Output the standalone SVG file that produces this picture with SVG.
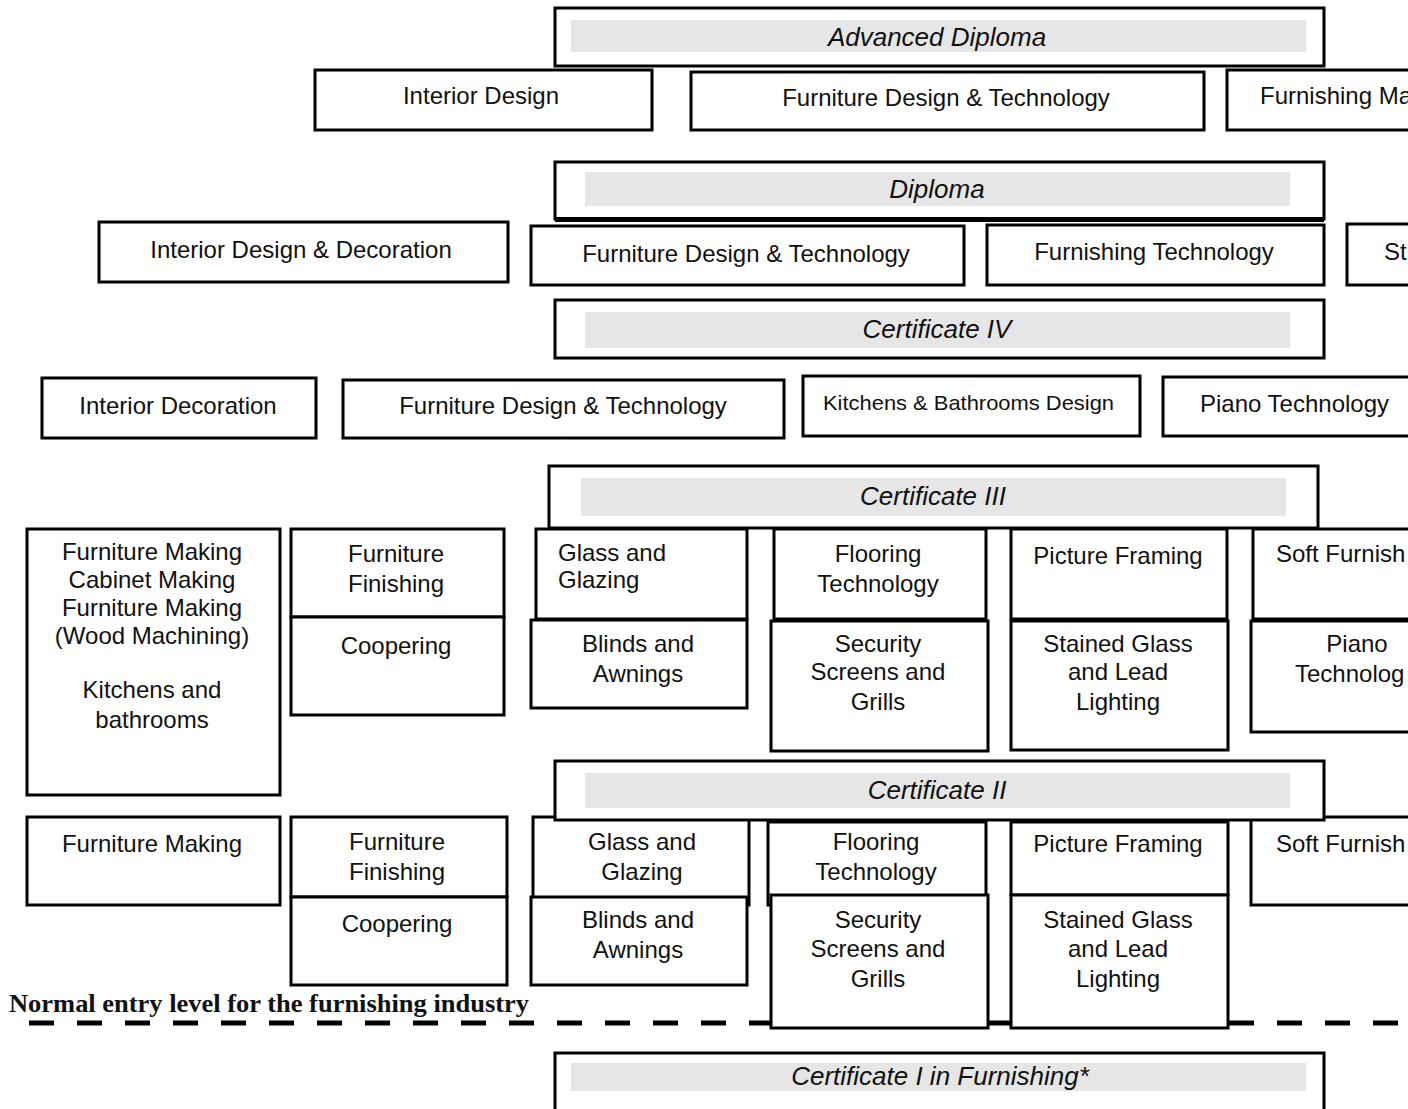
<svg xmlns="http://www.w3.org/2000/svg" width="1408" height="1109" viewBox="0 0 1408 1109">
<style>
.box{fill:#fff;stroke:#000;stroke-width:3}
.band{fill:#e6e6e6}
text{font-family:"Liberation Sans",Arial,sans-serif;font-size:24px;fill:#111}
.m{text-anchor:middle}
.h{font-style:italic;font-size:26px;text-anchor:middle}
.note{font-family:"Liberation Serif","Times New Roman",serif;font-weight:bold;font-size:25px}
</style>
<rect width="1408" height="1109" fill="#fff"/>
<g id="entry-level">
<path d="M29,1023 H1408" stroke="#000" stroke-width="5" stroke-dasharray="25 23" fill="none"/>
<text class="note" x="9" y="1012" textLength="520" lengthAdjust="spacingAndGlyphs">Normal entry level for the furnishing industry</text>
</g>
<g id="connectors"></g>
<!-- Row 1: Advanced Diploma courses -->
<g id="ad-interior-design"><rect class="box" x="315" y="70" width="337" height="60"/><text class="m" x="481" y="104">Interior Design</text></g>
<g id="ad-furniture-design"><rect class="box" x="691" y="72" width="513" height="58"/><text class="m" x="946" y="106">Furniture Design &amp; Technology</text></g>
<g id="ad-furnishing"><rect class="box" x="1227" y="70" width="200" height="60"/><text x="1260" y="104">Furnishing Ma</text></g>
<!-- Row 2: Diploma courses -->
<g id="dip-interior"><rect class="box" x="99" y="222" width="409" height="60"/><text class="m" x="301" y="258">Interior Design &amp; Decoration</text></g>
<g id="dip-furniture"><rect class="box" x="531" y="226" width="433" height="59"/><text class="m" x="746" y="262">Furniture Design &amp; Technology</text></g>
<g id="dip-furnishing"><rect class="box" x="987" y="225" width="337" height="60"/><text class="m" x="1154" y="260">Furnishing Technology</text></g>
<g id="dip-st"><rect class="box" x="1347" y="224" width="80" height="61"/><text x="1384" y="260">St</text></g>
<!-- Row 3: Certificate IV courses -->
<g id="c4-interior"><rect class="box" x="42" y="378" width="274" height="60"/><text class="m" x="178" y="414">Interior Decoration</text></g>
<g id="c4-furniture"><rect class="box" x="343" y="380" width="441" height="58"/><text class="m" x="563" y="414">Furniture Design &amp; Technology</text></g>
<g id="c4-kitchens"><rect class="box" x="803" y="376" width="337" height="60"/><text x="823" y="410" style="font-size:21px" textLength="291" lengthAdjust="spacingAndGlyphs">Kitchens &amp; Bathrooms Design</text></g>
<g id="c4-piano"><rect class="box" x="1163" y="377" width="260" height="59"/><text x="1200" y="412">Piano Technology</text></g>
<!-- Row 4: Certificate III courses -->
<g id="c3-furniture-making"><rect class="box" x="27" y="529" width="253" height="266"/>
<text class="m" x="152" y="560">Furniture Making</text><text class="m" x="152" y="588">Cabinet Making</text><text class="m" x="152" y="616">Furniture Making</text><text class="m" x="152" y="644">(Wood Machining)</text><text class="m" x="152" y="698">Kitchens and</text><text class="m" x="152" y="728">bathrooms</text></g>
<g id="c3-finishing"><rect class="box" x="291" y="529" width="213" height="88"/><text class="m" x="396" y="562">Furniture</text><text class="m" x="396" y="592">Finishing</text></g>
<g id="c3-coopering"><rect class="box" x="291" y="617" width="213" height="98"/><text class="m" x="396" y="654">Coopering</text></g>
<g id="c3-glass"><rect class="box" x="536" y="529" width="211" height="90"/><text x="558" y="561">Glass and</text><text x="558" y="588">Glazing</text></g>
<g id="c3-blinds"><rect class="box" x="531" y="620" width="216" height="88"/><text class="m" x="638" y="652">Blinds and</text><text class="m" x="638" y="682">Awnings</text></g>
<g id="c3-flooring"><rect class="box" x="774" y="529" width="212" height="90"/><text class="m" x="878" y="562">Flooring</text><text class="m" x="878" y="592">Technology</text></g>
<g id="c3-security"><rect class="box" x="771" y="621" width="217" height="130"/><text class="m" x="878" y="652">Security</text><text class="m" x="878" y="680">Screens and</text><text class="m" x="878" y="710">Grills</text></g>
<g id="c3-picture"><rect class="box" x="1011" y="529" width="216" height="90"/><text class="m" x="1118" y="564">Picture Framing</text></g>
<g id="c3-stained"><rect class="box" x="1011" y="621" width="217" height="129"/><text class="m" x="1118" y="652">Stained Glass</text><text class="m" x="1118" y="680">and Lead</text><text class="m" x="1118" y="710">Lighting</text></g>
<g id="c3-soft"><rect class="box" x="1253" y="529" width="180" height="90"/><text x="1276" y="562">Soft Furnish</text></g>
<g id="c3-piano"><rect class="box" x="1251" y="621" width="180" height="111"/><text class="m" x="1357" y="652">Piano</text><text x="1295" y="682">Technolog</text></g>
<!-- Row 5: Certificate II courses -->
<g id="c2-furniture-making"><rect class="box" x="27" y="817" width="253" height="88"/><text class="m" x="152" y="852">Furniture Making</text></g>
<g id="c2-finishing"><rect class="box" x="291" y="817" width="216" height="80"/><text class="m" x="397" y="850">Furniture</text><text class="m" x="397" y="880">Finishing</text></g>
<g id="c2-coopering"><rect class="box" x="291" y="897" width="216" height="88"/><text class="m" x="397" y="932">Coopering</text></g>
<g id="c2-glass"><rect class="box" x="533" y="817" width="216" height="88"/><text class="m" x="642" y="850">Glass and</text><text class="m" x="642" y="880">Glazing</text></g>
<g id="c2-blinds"><rect class="box" x="531" y="897" width="216" height="88"/><text class="m" x="638" y="928">Blinds and</text><text class="m" x="638" y="958">Awnings</text></g>
<g id="c2-flooring"><rect class="box" x="768" y="822" width="218" height="83"/><text class="m" x="876" y="850">Flooring</text><text class="m" x="876" y="880">Technology</text></g>
<g id="c2-security"><rect class="box" x="771" y="895" width="217" height="133"/><text class="m" x="878" y="928">Security</text><text class="m" x="878" y="957">Screens and</text><text class="m" x="878" y="987">Grills</text></g>
<g id="c2-picture"><rect class="box" x="1011" y="822" width="217" height="73"/><text class="m" x="1118" y="852">Picture Framing</text></g>
<g id="c2-stained"><rect class="box" x="1011" y="895" width="217" height="133"/><text class="m" x="1118" y="928">Stained Glass</text><text class="m" x="1118" y="957">and Lead</text><text class="m" x="1118" y="987">Lighting</text></g>
<g id="c2-soft"><rect class="box" x="1251" y="817" width="180" height="88"/><text x="1276" y="852">Soft Furnish</text></g>
<!-- Level headers -->
<g id="hdr-advanced-diploma"><rect class="box" x="555" y="8" width="769" height="58"/><rect class="band" x="571" y="20" width="735" height="32"/><text class="h" x="937" y="46">Advanced Diploma</text></g>
<g id="hdr-diploma"><rect class="box" x="555" y="162" width="769" height="57"/><path d="M555,219.5 H1324" stroke="#000" stroke-width="5"/><rect class="band" x="585" y="172" width="705" height="34"/><text class="h" x="937" y="198">Diploma</text></g>
<g id="hdr-cert-iv"><rect class="box" x="555" y="300" width="769" height="58"/><rect class="band" x="585" y="312" width="705" height="36"/><text class="h" x="937" y="338">Certificate IV</text></g>
<g id="hdr-cert-iii"><rect class="box" x="549" y="466" width="769" height="62"/><rect class="band" x="581" y="478" width="705" height="38"/><text class="h" x="933" y="505">Certificate III</text></g>
<g id="hdr-cert-ii"><rect class="box" x="555" y="761" width="769" height="59"/><rect class="band" x="585" y="773" width="705" height="35"/><text class="h" x="937" y="799">Certificate II</text></g>
<g id="hdr-cert-i"><rect class="box" x="555" y="1053" width="769" height="70"/><rect class="band" x="571" y="1063" width="735" height="28"/><text class="h" x="940" y="1085">Certificate I in Furnishing*</text></g>
</svg>
